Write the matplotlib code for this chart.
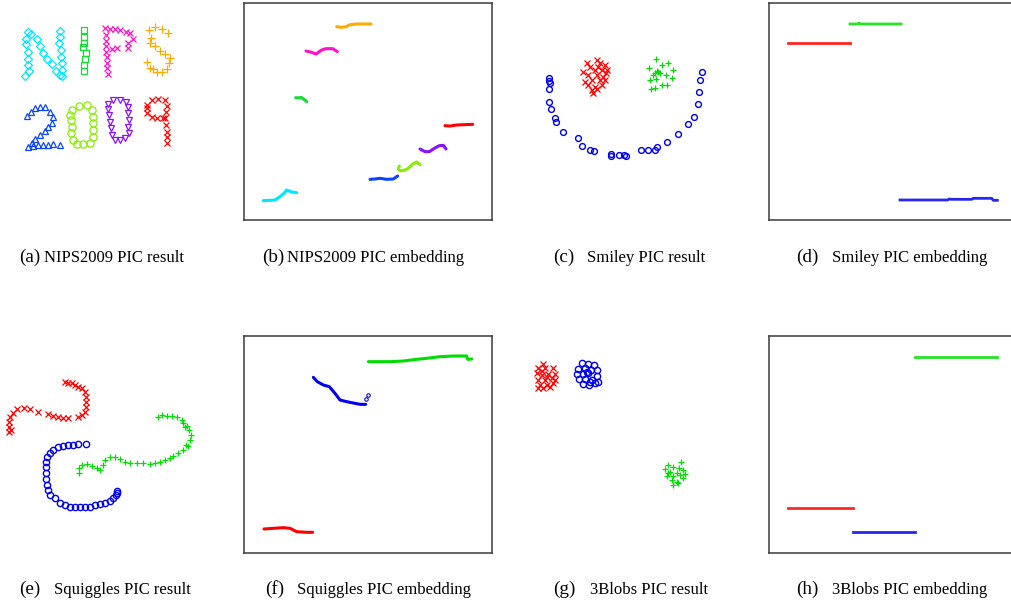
import matplotlib
matplotlib.use("Agg")
import matplotlib.pyplot as plt

W, H = 1011, 609
fig = plt.figure(figsize=(W / 100, H / 100), dpi=100)

# ---------------- data ----------------
# (a) NIPS2009 PIC result
N_x = [83, 93, 78, 78, 85, 85, 85, 87, 75, 110, 120, 128, 142, 155, 168, 180, 180, 180, 178, 183, 183, 187, 185, 185]
N_y = [97, 103, 118, 133, 155, 178, 195, 212, 228, 118, 138, 160, 178, 193, 212, 225, 92, 112, 130, 150, 170, 190, 210, 228]
I_x = [252, 252, 252, 248, 258, 255, 253, 252]
I_y = [90, 110, 128, 142, 158, 178, 195, 213]
P_x = [315, 330, 345, 360, 378, 390, 398, 385, 385, 350, 335, 318, 318, 318, 318, 320, 320, 322, 325]
P_y = [85, 88, 88, 90, 95, 100, 118, 130, 145, 145, 148, 105, 122, 138, 155, 172, 190, 205, 222]
S_x = [465, 448, 487, 505, 452, 450, 465, 480, 495, 510, 508, 440, 450, 458, 472, 485, 500]
S_y = [80, 90, 88, 100, 115, 128, 138, 152, 162, 175, 190, 185, 205, 208, 215, 215, 208]
two_x = [80, 92, 105, 120, 135, 150, 160, 155, 145, 135, 120, 105, 95, 85, 100, 115, 130, 145, 160, 180]
two_y = [348, 335, 325, 322, 322, 335, 350, 370, 380, 392, 405, 418, 428, 440, 438, 436, 435, 435, 433, 435]
zeroA_x = [215, 238, 262, 275, 278, 278, 280, 278, 270, 250, 232, 218, 213, 215, 212, 210]
zeroA_y = [330, 318, 315, 330, 350, 368, 390, 410, 428, 433, 433, 420, 400, 380, 360, 345]
zeroB_x = [325, 340, 360, 378, 383, 385, 388, 385, 388, 375, 360, 345, 335, 333, 330, 327, 325]
zeroB_y = [312, 300, 300, 305, 320, 340, 360, 380, 398, 415, 420, 420, 405, 385, 365, 345, 328]
nine_x = [440, 455, 475, 495, 500, 498, 495, 488, 470, 455, 440, 440, 498, 500, 500, 500]
nine_y = [315, 300, 297, 300, 318, 335, 355, 355, 355, 350, 340, 325, 375, 395, 412, 428]

# (b) NIPS2009 PIC embedding (index vs. embedding value)
emb_b = {
    "N": ([70, 90, 105, 120, 132, 140, 155, 170], [602, 601, 600, 590, 580, 570, 576, 578]),
    "I": ([167, 175, 183, 192, 200], [293, 294, 292, 298, 305]),
    "P": ([198, 215, 228, 235, 245, 258, 278, 292], [153, 157, 162, 157, 150, 146, 146, 155]),
    "S": ([290, 305, 318, 330, 350, 370, 393], [80, 82, 80, 74, 72, 72, 72]),
    "2": ([390, 405, 420, 440, 460, 473], [538, 537, 535, 538, 537, 528]),
    "0a": ([478, 475, 480, 490, 505, 518, 530, 540], [498, 507, 512, 512, 505, 492, 486, 494]),
    "0b": ([540, 555, 568, 583, 598, 610, 618], [447, 455, 455, 445, 437, 436, 447]),
    "9": ([615, 630, 650, 675, 698], [377, 378, 375, 374, 373]),
}

# (c) Smiley PIC result
sm_red_x = [200, 230, 240, 255, 190, 210, 225, 245, 258, 205, 230, 250, 195, 215, 240, 255, 205, 225, 245, 215, 230, 220, 260, 235]
sm_red_y = [70, 60, 68, 75, 95, 80, 90, 90, 100, 105, 105, 110, 125, 120, 120, 120, 135, 140, 135, 150, 148, 158, 90, 80]
sm_grn_x = [407, 425, 445, 388, 412, 458, 405, 420, 437, 455, 390, 408, 425, 440, 393, 405, 415, 400]
sm_grn_y = [58, 75, 70, 85, 92, 90, 100, 100, 105, 115, 120, 118, 135, 135, 148, 145, 95, 105]
sm_blu_x = [87, 87, 90, 87, 87, 94, 105, 108, 128, 174, 185, 210, 223, 272, 272, 297, 312, 318, 362, 383, 405, 410, 440, 475, 505, 522, 535, 538, 541, 545]
sm_blu_y = [115, 122, 130, 148, 185, 207, 233, 247, 277, 293, 318, 330, 332, 343, 347, 346, 345, 348, 330, 330, 330, 320, 306, 283, 253, 231, 193, 157, 120, 96]

# (d) Smiley PIC embedding
emb_d = {
    "red": ([70, 255], [128, 128]),
    "green": ([255, 278, 282, 286, 408], [72, 72, 69, 72, 72]),
    "blue": ([405, 548, 552, 560, 620, 625, 680, 685, 697], [600, 600, 597, 598, 598, 595, 595, 601, 601]),
}

# (e) Squiggles PIC result
sq_red_x = [195, 205, 215, 225, 235, 245, 255, 258, 258, 258, 255, 245, 235, 205, 190, 175, 160, 143, 115, 90, 72, 50, 38, 30, 28, 27, 28, 33]
sq_red_y = [35, 38, 38, 45, 50, 55, 65, 80, 95, 110, 125, 135, 140, 145, 145, 142, 138, 132, 125, 118, 115, 118, 128, 140, 155, 170, 185, 180]
sq_blu_x = [258, 235, 220, 205, 188, 175, 160, 150, 142, 138, 137, 138, 138, 140, 143, 150, 165, 180, 195, 210, 225, 240, 255, 270, 285, 300, 315, 330, 340, 348, 352, 350]
sq_blu_y = [222, 222, 224, 225, 228, 232, 240, 250, 262, 275, 290, 310, 328, 345, 360, 375, 385, 400, 405, 410, 410, 410, 410, 410, 405, 402, 398, 392, 385, 375, 362, 370]
sq_grn_x = [237, 238, 245, 260, 275, 290, 300, 310, 315, 330, 345, 360, 375, 390, 410, 430, 450, 465, 480, 495, 510, 520, 535, 548, 558, 565, 570, 572, 568, 560, 550, 545, 530, 515, 500, 485, 475, 555]
sq_grn_y = [310, 295, 285, 283, 288, 295, 300, 285, 270, 262, 262, 268, 275, 278, 280, 280, 282, 280, 275, 270, 265, 258, 250, 240, 225, 228, 210, 195, 180, 168, 160, 150, 140, 138, 138, 135, 140, 170]

# (f) Squiggles PIC embedding
emb_f = {
    "green": ([385, 410, 450, 490, 530, 560, 600, 640, 680, 683, 695], [110, 110, 110, 108, 103, 100, 95, 93, 93, 103, 102]),
    "blue": ([220, 232, 250, 268, 285, 300, 320, 345, 360, 377], [157, 170, 180, 185, 205, 225, 230, 235, 238, 238]),
    "red": ([72, 100, 130, 150, 170, 200, 218], [612, 610, 608, 610, 620, 622, 622]),
}
emb_f_blue_out_x = [378, 383]
emb_f_blue_out_y = [222, 210]

# (g) 3Blobs PIC result
bl_red_x = [70, 55, 75, 100, 50, 65, 85, 105, 55, 75, 95, 60, 80, 100, 90, 70, 55, 80, 65, 105]
bl_red_y = [42, 55, 55, 55, 70, 75, 72, 72, 90, 90, 85, 105, 105, 100, 112, 115, 115, 80, 62, 90]
bl_blu_x = [185, 205, 222, 175, 195, 213, 230, 170, 190, 205, 232, 178, 195, 215, 235, 190, 208, 225, 210, 200]
bl_blu_y = [40, 43, 45, 58, 55, 60, 60, 73, 73, 70, 78, 88, 88, 90, 95, 102, 105, 100, 95, 65]
bl_grn_x = [483, 445, 460, 478, 435, 450, 470, 490, 440, 460, 480, 495, 455, 470, 490, 460, 475, 445]
bl_grn_y = [335, 345, 352, 355, 358, 365, 368, 360, 378, 378, 375, 372, 390, 395, 385, 405, 400, 370]

# (h) 3Blobs PIC embedding
emb_h = {
    "green": ([450, 697], [95, 95]),
    "red": ([70, 263], [548, 548]),
    "blue": ([263, 450], [622, 622]),
}

captions = [("(a)", "NIPS2009 PIC result"), ("(b)", "NIPS2009 PIC embedding"),
            ("(c)", "Smiley PIC result"), ("(d)", "Smiley PIC embedding"),
            ("(e)", "Squiggles PIC result"), ("(f)", "Squiggles PIC embedding"),
            ("(g)", "3Blobs PIC result"), ("(h)", "3Blobs PIC embedding")]

# ---------------- styles ----------------
C_N, C_I, C_P, C_S = "#00e6ff", "#11dd33", "#ff11cc", "#ffaa00"
C_2, C_0a, C_0b, C_9 = "#0a44ff", "#88ee00", "#8a11ff", "#ff0000"
RED, GRN, BLU = "#ff0000", "#00dd00", "#0000ee"
emb_b_colors = {"N": C_N, "I": C_I, "P": C_P, "S": C_S, "2": C_2, "0a": C_0a, "0b": C_0b, "9": C_9}
rgb = {"red": RED, "green": GRN, "blue": BLU}


def px_axes(x0, y0, x1, y1, xlim, ylim, frame=False):
    ax = fig.add_axes([x0 / W, 1 - y1 / H, (x1 - x0) / W, (y1 - y0) / H])
    ax.set_xlim(*xlim)
    ax.set_ylim(ylim[1], ylim[0])
    ax.set_xticks([])
    ax.set_yticks([])
    if frame:
        for s in ax.spines.values():
            s.set_color("#3a3a3a")
            s.set_linewidth(1.1)
    else:
        ax.axis("off")
    return ax


def sc(ax, x, y, marker, color, ms=4.5, mew=0.9):
    filled = marker in ("x", "+")
    ax.plot(x, y, linestyle="none", marker=marker, ms=ms, mew=mew,
            mfc=(color if filled else "none"), mec=color, clip_on=False)


# (a)
ax = px_axes(0, 0, 200, 160, (0, 600), (0, 480))
sc(ax, N_x, N_y, "D", C_N, ms=4.2)
sc(ax, I_x, I_y, "s", C_I, ms=4.8)
sc(ax, P_x, P_y, "x", C_P, ms=4.8)
sc(ax, S_x, S_y, "+", C_S, ms=5.2)
sc(ax, two_x, two_y, "^", C_2, ms=4.8)
sc(ax, zeroA_x, zeroA_y, "o", C_0a, ms=5.2)
sc(ax, zeroB_x, zeroB_y, "v", C_0b, ms=4.8)
sc(ax, nine_x, nine_y, "x", C_9, ms=4.8)

# (b)
ax = px_axes(244, 3.33, 491.67, 220, (12, 755), (10, 660), frame=True)
for k, (xs, ys) in emb_b.items():
    ax.plot(xs, ys, color=emb_b_colors[k], lw=2.2, solid_capstyle="round", solid_joinstyle="round")

# (c)
ax = px_axes(520, 40, 720, 170, (0, 600), (0, 390))
sc(ax, sm_red_x, sm_red_y, "x", RED, ms=4.5)
sc(ax, sm_grn_x, sm_grn_y, "+", GRN, ms=5)
sc(ax, sm_blu_x, sm_blu_y, "o", BLU, ms=4.2, mew=1.0)

# (d)
ax = px_axes(769, 3.33, 1013, 220, (12, 744), (10, 660), frame=True)
for k, (xs, ys) in emb_d.items():
    ax.plot(xs, ys, color=rgb[k], lw=2.0, alpha=0.85)

# (e)
ax = px_axes(0, 370, 200, 510, (0, 600), (0, 420))
sc(ax, sq_red_x, sq_red_y, "x", RED, ms=4.2)
sc(ax, sq_blu_x, sq_blu_y, "o", BLU, ms=4.5, mew=1.0)
sc(ax, sq_grn_x, sq_grn_y, "+", GRN, ms=5)

# (f)
ax = px_axes(244, 335.67, 491.67, 553.33, (12, 755), (32, 685), frame=True)
for k, (xs, ys) in emb_f.items():
    ax.plot(xs, ys, color=rgb[k], lw=2.2, solid_capstyle="round", solid_joinstyle="round")
sc(ax, emb_f_blue_out_x, emb_f_blue_out_y, "o", BLU, ms=2.5, mew=0.8)

# (g)
ax = px_axes(520, 350, 720, 500, (0, 600), (0, 450))
sc(ax, bl_red_x, bl_red_y, "x", RED, ms=4.2)
sc(ax, bl_blu_x, bl_blu_y, "o", BLU, ms=4.5, mew=1.0)
sc(ax, bl_grn_x, bl_grn_y, "+", GRN, ms=5)

# (h)
ax = px_axes(769, 335.67, 1013, 553.33, (12, 744), (32, 685), frame=True)
for k, (xs, ys) in emb_h.items():
    ax.plot(xs, ys, color=rgb[k], lw=2.0, alpha=0.85)

# captions
cap_pos = [(19, 43.5, 262), (262, 287, 262), (553, 587, 262), (796.5, 831.5, 262),
           (19, 53.5, 594), (265, 297, 594), (553, 590, 594), (796, 831.5, 594)]
for (lab, txt), (xl, xt, yb) in zip(captions, cap_pos):
    fig.text(xl / W, 1 - yb / H, lab, family="Liberation Serif", fontsize=13.8, va="baseline", ha="left")
    fig.text(xt / W, 1 - yb / H, txt, family="Liberation Serif", fontsize=12, va="baseline", ha="left")

fig.savefig("out.png", dpi=100)
